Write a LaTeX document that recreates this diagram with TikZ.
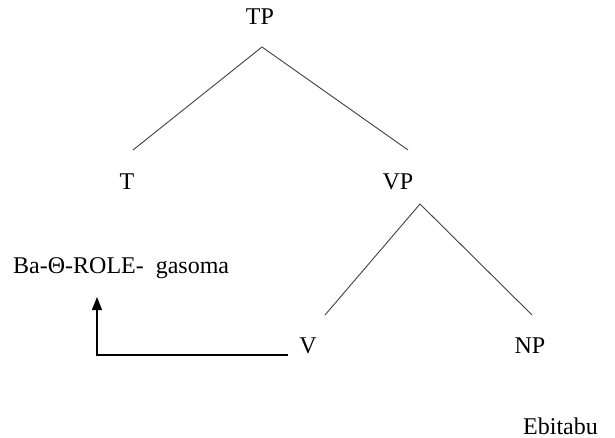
\documentclass[tikz,border=0pt]{standalone}
\usepackage{fontspec}
\setmainfont{Liberation Serif}
\usetikzlibrary{arrows.meta}
\begin{document}
\begin{tikzpicture}[x=1pt,y=-1pt,
  lbl/.style={anchor=base,inner sep=0pt,font=\fontsize{24}{28}\selectfont},
  branch/.style={draw=black!75,line width=0.9pt},
  move/.style={draw=black,line width=1.3pt,-{Triangle[width=10pt,length=13pt]}}]
\useasboundingbox (0,0) rectangle (615,438);
\node[lbl] (TP) at (260,25) {TP};
\node[lbl] (T) at (127,190) {T};
\node[lbl] (VP) at (398,190) {VP};
\node[lbl] (V) at (308,353) {V};
\node[lbl] (NP) at (530,353) {NP};
\node[lbl,anchor=base west] (Ba) at (13,273) {Ba-Θ-ROLE-\ \ gasoma};
\node[lbl,anchor=base west] (Eb) at (523,434) {Ebitabu};
\coordinate (tpb) at (262,47);
\coordinate (tt) at (133,150);
\coordinate (tvp) at (408,150);
\coordinate (vpb) at (420,204);
\coordinate (tv) at (325,315);
\coordinate (tnp) at (532,315);
\coordinate (mvs) at (288,355);
\coordinate (mve) at (97,297);
\draw[branch] (tt) -- (tpb) -- (tvp);
\draw[branch] (tv) -- (vpb) -- (tnp);
\draw[move] (mvs) -| (mve);
\end{tikzpicture}
\end{document}
